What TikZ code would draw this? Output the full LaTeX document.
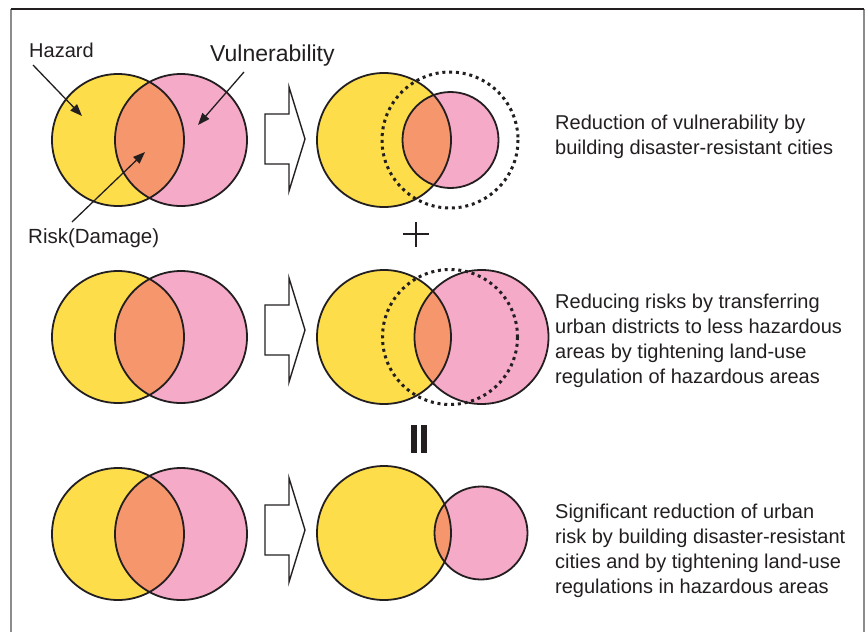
\documentclass[tikz,border=0pt]{standalone}
\usepackage{fontspec}
\setmainfont{Liberation Sans}
\usetikzlibrary{arrows.meta}
\definecolor{yel}{RGB}{253,221,74}
\definecolor{pnk}{RGB}{245,170,200}
\definecolor{ora}{RGB}{245,150,108}
\definecolor{ink}{RGB}{35,31,32}
\tikzset{
  outline/.style={draw=ink,line width=1.8pt},
  dotring/.style={draw=ink,line width=3pt,dash pattern=on 3pt off 3.8pt},
  blockarrow/.style={draw=ink,fill=white,line width=1.4pt,line join=miter},
  pointer/.style={draw=ink,line width=1.3pt,-{Triangle[length=12pt,width=9pt]}},
  lbl/.style={inner sep=0pt,anchor=base west,text=ink},
  desc/.style={inner sep=0pt,anchor=base west,align=left,text=ink,font=\fontsize{20}{25}\selectfont},
  pics/venn/.style n args={5}{code={
    % #1 yx, #2 px, #3 y, #4 ry, #5 rp
    \fill[yel] (#1,#3) circle (#4);
    \fill[pnk] (#2,#3) circle (#5);
    \begin{scope}\clip (#1,#3) circle (#4);\fill[ora] (#2,#3) circle (#5);\end{scope}
    \draw[outline] (#1,#3) circle (#4);
    \draw[outline] (#2,#3) circle (#5);
  }},
  pics/barrow/.style={code={
    \draw[blockarrow] (265,#1-25)--(289,#1-25)--(289,#1-52)--(305,#1)--(289,#1+52)--(289,#1+25)--(265,#1+25)--cycle;
  }}
}
\begin{document}
\begin{tikzpicture}[x=1pt,y=-1pt]
\useasboundingbox (0,0) rectangle (867,632);
\fill[white] (0,0) rectangle (867,632);
% frame
\draw[line width=1.6pt,draw=black!45] (11,632)--(11,9);
\draw[line width=1.6pt,draw=black!45] (864,9)--(864,632);
\draw[line width=1.6pt,draw=ink] (11,9)--(864,9);

% row 1
\pic {venn={118}{181}{140}{66}{66}};
\pic {barrow=139};
\pic {venn={384}{450.5}{140}{67}{48}};
\draw[dotring] (450,140) circle (68);

% row 2
\pic {venn={118}{181}{337}{66}{66}};
\pic {barrow=330};
\pic {venn={384}{481.5}{337}{67}{67}};
\draw[dotring] (450,337) circle (67.5);

% row 3
\pic {venn={118}{181}{534}{66}{66}};
\pic {barrow=530};
\pic {venn={384}{481}{533}{67}{46.5}};

% labels and pointers
\node[lbl,font=\fontsize{20}{24}\selectfont] (hazard) at (29,57) {Hazard};
\node[lbl,font=\fontsize{23}{27}\selectfont] (vuln) at (210,61) {Vulnerability};
\node[lbl,font=\fontsize{20.5}{24}\selectfont] (risk) at (28,243) {Risk(Damage)};
\coordinate (hzs) at (33,65);
\coordinate (hzt) at (82,116);
\coordinate (vls) at (244,72);
\coordinate (vlt) at (198,125);
\coordinate (rks) at (72,222);
\coordinate (rkt) at (145,152);
\draw[pointer] (hzs) -- (hzt);
\draw[pointer] (vls) -- (vlt);
\draw[pointer] (rks) -- (rkt);

% plus and equals
\draw[draw=ink,line width=2pt] (402.7,234.3)--(429.3,234.3);
\draw[draw=ink,line width=2pt] (416,222)--(416,247.3);
\fill[ink] (411,425) rectangle (416.5,453);
\fill[ink] (421,425) rectangle (426.7,453);

% descriptions (anchored at the baseline of the last line)
\node[desc] (d1) at (555,154) {Reduction of vulnerability by\\building disaster-resistant cities};
\node[desc] (d2) at (555,383) {Reducing risks by transferring\\urban districts to less hazardous\\areas by tightening land-use\\regulation of hazardous areas};
\node[desc] (d3) at (555,593) {Significant reduction of urban\\risk by building disaster-resistant\\cities and by tightening land-use\\regulations in hazardous areas};
\end{tikzpicture}
\end{document}
